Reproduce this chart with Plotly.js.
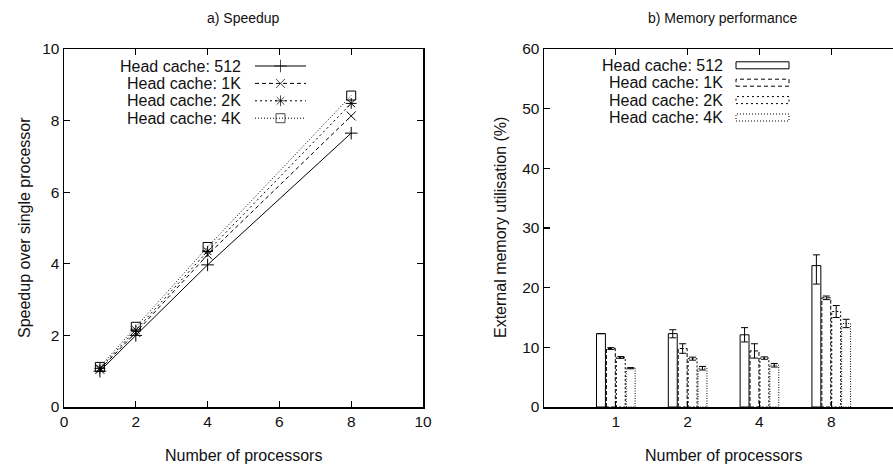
<!DOCTYPE html>
<html>
<head>
<meta charset="utf-8">
<script src="https://cdn.plot.ly/plotly-3.0.1.min.js"></script>
<style>html,body{margin:0;padding:0;background:#fff;}#chart{width:893px;height:464px;}</style>
</head>
<body>
<div id="chart"></div>
<script>
// ---------- data ----------
const seriesNames = ["Head cache: 512", "Head cache: 1K", "Head cache: 2K", "Head cache: 4K"];
const processors = [1, 2, 4, 8];
const procLabels = ["1", "2", "4", "8"];

const speedup512 = [1.00, 2.00, 3.97, 7.65];
const speedup1K  = [1.05, 2.08, 4.25, 8.13];
const speedup2K  = [1.08, 2.15, 4.35, 8.48];
const speedup4K  = [1.12, 2.24, 4.47, 8.70];

const mem512 = [12.3, 12.3, 12.1, 23.7];
const mem1K  = [9.8, 9.8, 9.4, 18.3];
const mem2K  = [8.3, 8.1, 8.2, 16.0];
const mem4K  = [6.5, 6.5, 7.0, 14.0];

const mem512ErrPlus  = [0.0, 0.65, 1.2, 1.8];
const mem512ErrMinus = [0.0, 0.70, 1.2, 3.1];
const mem1KErr = [0.15, 0.8, 1.2, 0.3];
const mem2KErr = [0.15, 0.25, 0.2, 1.0];
const mem4KErr = [0.10, 0.3, 0.3, 0.7];

// ---------- styles ----------
const W = 893, H = 464;
const px = v => v / W;
const py = v => (H - v) / H;
const FONT = "Liberation Sans, Arial, sans-serif";
const INK = "#111";
const lineDash = ["solid", "4px,3px", "2px,3px", "1px,2px"];
const barDash = [null, "4,2", "2,2", "1,1.5"];
const symbols = ["cross-thin-open", "x-thin-open", "asterisk-open", "square-open"];
const speedSeries = [speedup512, speedup1K, speedup2K, speedup4K];
const memSeries = [mem512, mem1K, mem2K, mem4K];
const memErrPlus = [mem512ErrPlus, mem1KErr, mem2KErr, mem4KErr];
const memErrMinus = [mem512ErrMinus, mem1KErr, mem2KErr, mem4KErr];

const traces = [];
// left: speedup lines
speedSeries.forEach((s, i) => {
  traces.push({
    type: "scatter", mode: "lines+markers", x: processors, y: s,
    xaxis: "x", yaxis: "y", name: seriesNames[i], showlegend: false,
    line: {color: "#000", width: 1, dash: lineDash[i]},
    marker: {symbol: symbols[i], size: 9, color: "#000", line: {color: "#000", width: 1}}
  });
});
// right: memory bars
memSeries.forEach((s, i) => {
  traces.push({
    type: "bar", x: procLabels, y: s, xaxis: "x2", yaxis: "y2",
    name: seriesNames[i], showlegend: false,
    marker: {color: "rgba(255,255,255,1)", line: {color: "#000", width: 1}},
    error_y: {type: "data", symmetric: false, array: memErrPlus[i], arrayminus: memErrMinus[i],
              color: "#000", thickness: 1, width: 3.5}
  });
});

// legend samples (left), on a helper axis pair
const legRow0 = 66, legStep = 17.4;
seriesNames.forEach((n, i) => {
  const r = legRow0 + legStep * i;
  traces.push({
    type: "scatter", mode: "lines+markers", x: [0, 0.5, 1], y: [r, r, r],
    xaxis: "x3", yaxis: "y3", showlegend: false, hoverinfo: "skip",
    line: {color: "#000", width: 1, dash: lineDash[i]},
    marker: {symbol: symbols[i], size: [0, 9, 0], color: "#000", line: {color: "#000", width: 1}}
  });
});

const axisCommon = {
  showgrid: false, zeroline: false, showline: true, linecolor: "#000", linewidth: 1.5,
  ticks: "inside", ticklen: 6, tickwidth: 1.2, tickcolor: "#000",
  tickfont: {family: FONT, size: 15.5, color: INK}, fixedrange: true
};

const annotations = [];
const textFont = {family: FONT, size: 16, color: INK};
function ann(text, x, y, opts) {
  annotations.push(Object.assign({text: text, x: x, y: y, xref: "paper", yref: "paper",
    showarrow: false, font: textFont, xanchor: "center", yanchor: "middle"}, opts || {}));
}
ann("a) Speedup", px(243.5), py(18), {font: {family: FONT, size: 14, color: INK}});
ann("b) Memory performance", px(723), py(18), {font: {family: FONT, size: 14, color: INK}});
ann("Number of processors", px(243.5), py(455));
ann("Number of processors", px(723), py(455));
ann("Speedup over single processor", px(24), py(228), {textangle: -90});
ann("External memory utilisation (%)", px(500), py(228), {textangle: -90});
seriesNames.forEach((n, i) => {
  const r = legRow0 + legStep * i;
  ann(n, px(243), py(r), {xanchor: "right"});
  ann(n, px(725), py(r - 0.5), {xanchor: "right"});
});

const shapes = [];
seriesNames.forEach((n, i) => {
  const r = legRow0 - 0.7 + legStep * i;
  shapes.push({type: "rect", xref: "paper", yref: "paper",
    x0: px(736), x1: px(789), y0: py(r + 3.5), y1: py(r - 3.5),
    line: {color: "#000", width: 1, dash: lineDash[i]}, fillcolor: "rgba(0,0,0,0)"});
});

const layout = {
  width: W, height: H, margin: {l: 0, r: 0, t: 0, b: 0},
  paper_bgcolor: "#fff", plot_bgcolor: "rgba(0,0,0,0)",
  showlegend: false, barmode: "group", bargap: 0.448, bargroupgap: 0.1,
  xaxis: Object.assign({}, axisCommon, {domain: [px(64), px(423)], range: [0, 10], dtick: 2, tick0: 0,
    mirror: "ticks", anchor: "y"}),
  yaxis: Object.assign({}, axisCommon, {domain: [py(407), py(49)], range: [0, 10], dtick: 2, tick0: 0,
    mirror: "ticks", anchor: "x"}),
  xaxis2: Object.assign({}, axisCommon, {domain: [px(544), 1], type: "category", range: [-1, 3.86],
    mirror: "ticks", anchor: "y2"}),
  yaxis2: Object.assign({}, axisCommon, {domain: [py(407), py(49)], range: [0, 60], dtick: 10, tick0: 0,
    mirror: false, anchor: "x2"}),
  xaxis3: {domain: [px(255), px(306)], range: [0, 1], visible: false, fixedrange: true, anchor: "y3"},
  yaxis3: {domain: [py(130), py(54)], range: [130, 54], visible: false, fixedrange: true, anchor: "x3"},
  annotations: annotations, shapes: shapes
};

Plotly.newPlot("chart", traces, layout, {staticPlot: true, displayModeBar: false}).then(gd => {
  const barTraces = gd.querySelectorAll(".barlayer .trace");
  barTraces.forEach((t, i) => {
    if (barDash[i]) {
      t.querySelectorAll(".point path").forEach(p => { p.style.strokeDasharray = barDash[i]; });
    }
  });
});
</script>
</body>
</html>
